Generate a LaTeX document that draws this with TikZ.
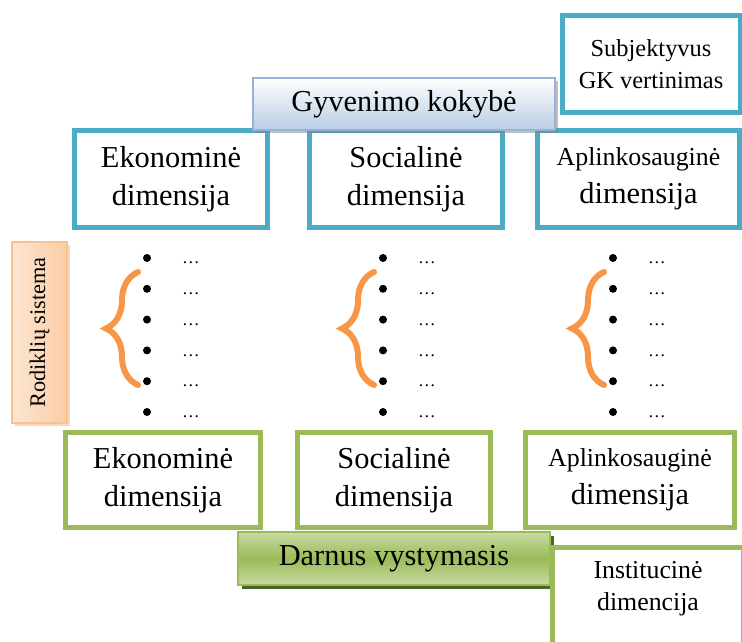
\documentclass[tikz,border=0pt]{standalone}
\usepackage{fontspec}
\setmainfont{Liberation Serif}
\usetikzlibrary{shadows,decorations.pathreplacing}
\definecolor{aqualine}{RGB}{75,172,198}
\definecolor{olivegreen}{RGB}{155,187,89}
\definecolor{lightolive}{RGB}{200,218,162}
\definecolor{darkolive}{RGB}{79,98,40}
\definecolor{paleblue}{RGB}{185,205,229}
\definecolor{greyblue}{RGB}{149,179,215}
\definecolor{peach}{RGB}{251,212,180}
\definecolor{paleorange}{RGB}{250,192,143}
\definecolor{braceorange}{RGB}{247,150,70}
\newcommand{\firstline}[1]{{\fontsize{14.7}{18}\selectfont #1}}

\begin{document}
\begin{tikzpicture}[
    x=0.02cm, y=-0.02cm,
    txt/.style={font=\fontsize{17.3}{21.5}\selectfont, align=center},
    blue/.style={txt, rectangle, draw=aqualine, line width=0.1cm, fill=white},
    green/.style={txt, rectangle, draw=olivegreen, line width=0.1cm, fill=white},
    title/.style={txt, rectangle, draw=greyblue, thick, top color=white, bottom color=paleblue,
        drop shadow={shadow xshift=1.5pt, shadow yshift=-1.5pt, fill=gray, opacity=0.5}},
    dot/.style={circle, fill=black, inner sep=0pt, minimum size=0.16cm},
    ell/.style={font=\fontsize{10}{12}\selectfont, inner sep=0pt},
    brace/.style={decorate, decoration={brace, amplitude=0.64cm}, draw=braceorange,
        line width=0.12cm, line cap=round},
    ]
    \clip (0,0) rectangle (742,641);
    \fill[white] (0,0) rectangle (742,641);
    \node[blue, minimum width=3.86cm, minimum height=1.94cm] (eko) at (171,179) {Ekonominė\\dimensija};
    \node[blue, minimum width=3.88cm, minimum height=1.94cm] (soc) at (406,179) {Socialinė\\dimensija};
    \node[blue, minimum width=4.06cm, minimum height=1.94cm] (apl) at (638.5,179) {\firstline{Aplinkosauginė}\\dimensija};
    \node[blue, minimum width=3.56cm, minimum height=1.94cm, font=\fontsize{13.9}{18}\selectfont] (subj) at (651,64) {Subjektyvus\\GK vertinimas};
    \node[title, minimum width=6.04cm, minimum height=1.04cm] (gk) at (404,104) {Gyvenimo kokybė};
    \node[rectangle, draw=paleorange, thick, left color=peach!60, right color=paleorange!80,
        minimum width=1.1cm, minimum height=3.62cm, font=\fontsize{12.7}{15}\selectfont,
        drop shadow={shadow xshift=1.5pt, shadow yshift=-1.5pt, fill=paleorange, opacity=0.6}]
        (rod) at (39.5,332.5) {\rotatebox{90}{Rodiklių sistema}};
    \foreach \bx/\col in {147/a, 383/b, 613/c} {
        \foreach \i in {0,...,5} {
            \node[dot] (dot-\col-\i) at (\bx, 258+30.8*\i) {};
            \node[ell] (ell-\col-\i) at (\bx+44, 263+30.8*\i) {…};
        }
        \draw[brace] (\bx-9, 385) -- (\bx-9, 272);
    }
    \node[green, minimum width=3.9cm, minimum height=1.9cm] (ekob) at (163,480) {Ekonominė\\dimensija};
    \node[green, minimum width=3.86cm, minimum height=1.9cm] (socb) at (394,480) {Socialinė\\dimensija};
    \node[green, minimum width=4.18cm, minimum height=1.9cm] (aplb) at (630,480) {\firstline{Aplinkosauginė}\\dimensija};
    \node[txt, rectangle, draw=olivegreen, thick, top color=lightolive, bottom color=lightolive, middle color=olivegreen,
        minimum width=6.24cm, minimum height=1.06cm,
        drop shadow={shadow xshift=2.3pt, shadow yshift=-2.3pt, fill=darkolive, opacity=1}]
        (darnus) at (394,558.5) {Darnus vystymasis};
    \node[green, minimum width=3.82cm, minimum height=2.4cm] (inst) at (648,607.5) {};
    \node[txt, font=\fontsize{14.7}{18}\selectfont] (insttxt) at (648,589) {Institucinė\\dimencija};
\end{tikzpicture}
\end{document}
